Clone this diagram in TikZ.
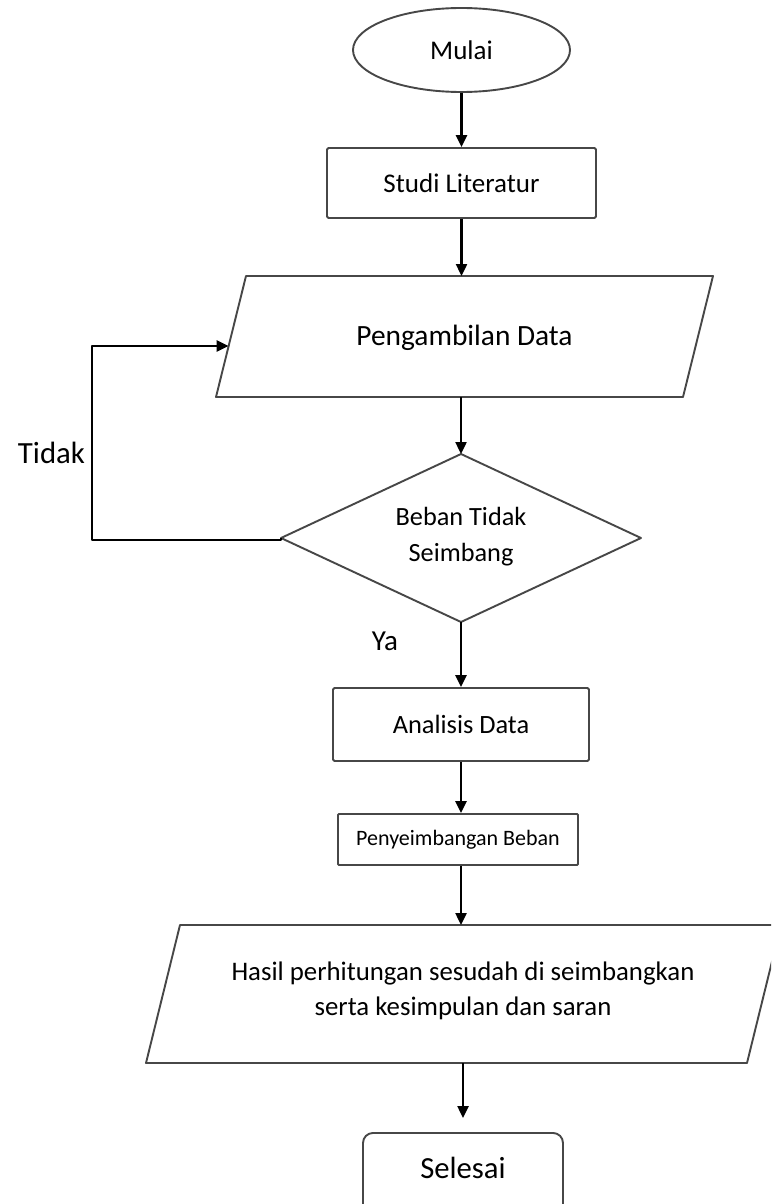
\documentclass[tikz,border=0pt]{standalone}
\usepackage{fontspec}
\setmainfont{Carlito}
\usetikzlibrary{arrows.meta,shapes.geometric}
\begin{document}
\begin{tikzpicture}[x=1pt,y=-1pt,
  shp/.style={draw=black!72, line width=1.9pt},
  conn/.style={draw=black, line width=2.4pt, -{Triangle[length=12pt,width=11pt]}},
  txt/.style={inner sep=0pt, align=center},
  fA/.style={font=\fontsize{27}{36}\selectfont},
]
\useasboundingbox (0,0) rectangle (771,1204);
\clip (0,0) rectangle (771,1204);

% Mulai
\node[shp, ellipse, minimum width=217pt, minimum height=84pt, inner sep=0pt, fA] (mulai) at (461.5,50) {Mulai};

% Studi Literatur
\node[shp, rectangle, rounded corners=1.5pt, minimum width=269pt, minimum height=70pt, fA] (studi) at (461.5,183) {Studi Literatur};

% Pengambilan Data (parallelogram)
\coordinate (pA) at (246,276);
\coordinate (pB) at (713,276);
\coordinate (pC) at (683,397);
\coordinate (pD) at (216,397);
\draw[shp, line join=round] (pA) -- (pB) -- (pC) -- (pD) -- cycle;
\node[txt, font=\fontsize{29.4}{36}\selectfont] (ambil) at (464.5,338) {Pengambilan Data};
\coordinate (ambilT) at (461.5,276);
\coordinate (ambilB) at (461,397);
\coordinate (ambilL) at (228.6,346);

% Decision diamond
\coordinate (dT) at (461,454);
\coordinate (dR) at (641,538);
\coordinate (dB) at (461,622);
\coordinate (dL) at (281,538);
\draw[shp, line join=round] (dT) -- (dR) -- (dB) -- (dL) -- cycle;
\node[txt, font=\fontsize{26.3}{36}\selectfont] (beban) at (461,537) {Beban Tidak\\Seimbang};

% Analisis Data
\node[shp, rectangle, rounded corners=1.5pt, minimum width=256pt, minimum height=73pt, font=\fontsize{26.4}{32}\selectfont] (analisis) at (461,724.5) {Analisis Data};

% Penyeimbangan Beban
\node[shp, rectangle, rounded corners=1pt, minimum width=240pt, minimum height=51pt, font=\fontsize{22}{28}\selectfont] (penyeimbangan) at (458,839.5) {Penyeimbangan Beban};

% Hasil (parallelogram)
\coordinate (hA) at (180,925);
\coordinate (hB) at (781,925);
\coordinate (hC) at (747,1063);
\coordinate (hD) at (146,1063);
\draw[shp, line join=round] (hA) -- (hB) -- (hC) -- (hD) -- cycle;
\node[txt, font=\fontsize{26.8}{35}\selectfont] (hasil) at (463,991) {Hasil perhitungan sesudah di seimbangkan\\serta kesimpulan dan saran};
\coordinate (hasilT) at (461,925);
\coordinate (hasilB) at (463,1063);

% Selesai
\node[shp, rectangle, rounded corners=10pt, minimum width=200pt, minimum height=92pt, anchor=north] (selesai) at (463,1132) {};
\node[txt, font=\fontsize{30.7}{36}\selectfont] (selesaiT) at (463,1168) {Selesai};

% Labels
\node[txt, font=\fontsize{30.8}{36}\selectfont] (tidak) at (51.5,453) {Tidak};
\node[txt, font=\fontsize{29}{36}\selectfont] (ya) at (385,641) {Ya};

% Connectors
\draw[conn] (mulai.south) -- (studi.north);
\draw[conn] (studi.south) -- (ambilT);
\draw[conn] (ambilB) -- (dT);
\draw[conn] (dB) -- (analisis.north);
\draw[conn] (analisis.south) -- (penyeimbangan.north -| analisis.south);
\draw[conn] (penyeimbangan.south -| analisis.south) -- (hasilT);
\draw[conn, shorten >=14pt] (hasilB) -- (selesai.north);
\coordinate (lb) at (92,540);
\coordinate (lt) at (92,346);
\draw[conn, line join=round] (dL) |- (lb) -- (lt) -- (ambilL);
\end{tikzpicture}
\end{document}
